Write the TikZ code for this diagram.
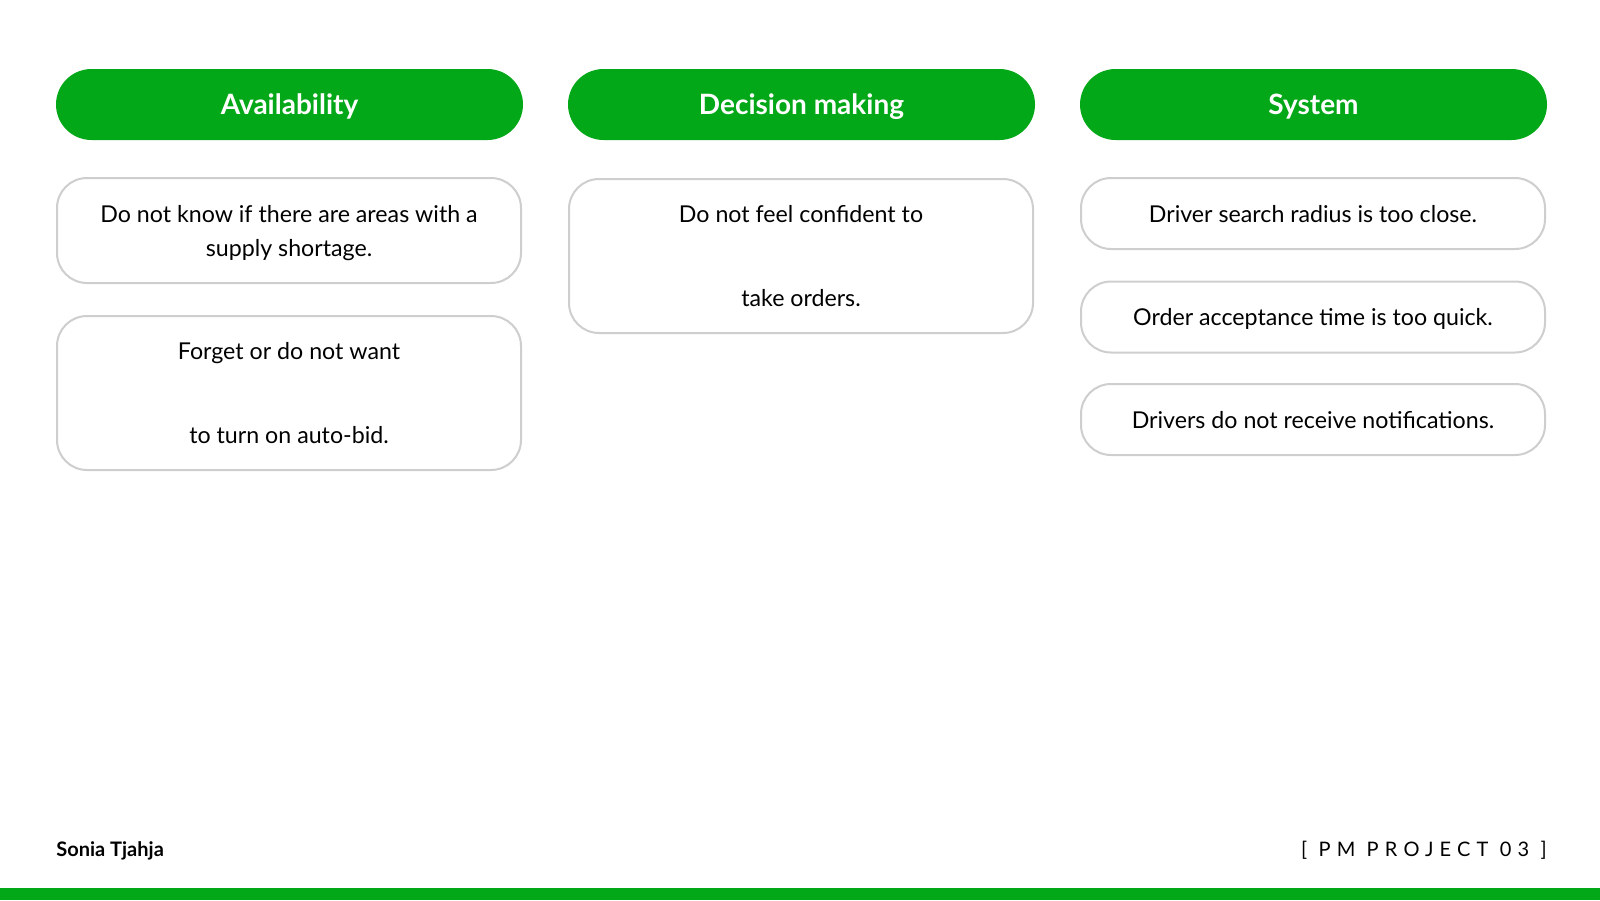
\documentclass[tikz,border=0pt]{standalone}
\usepackage{fontspec}
\setmainfont{Lato}
\newfontfamily\spacedfont[LetterSpace=31]{Lato}
\definecolor{grabgreen}{RGB}{3,168,24}
\definecolor{cardgray}{RGB}{206,206,206}

\begin{document}
\begin{tikzpicture}[x=0.5pt, y=-0.5pt,
    header/.style={fill=grabgreen, rounded corners=17.75pt, minimum width=233.5pt, minimum height=35.5pt,
        inner sep=0pt, text depth=0pt, text=white, font=\fontsize{14}{17}\selectfont\bfseries},
    card/.style={draw=cardgray, line width=1pt, fill=white, rounded corners=15pt, minimum width=232pt,
        inner sep=0pt, text depth=0pt, align=center, font=\fontsize{11.6}{17}\selectfont}]
        \useasboundingbox (0,0) rectangle (1600,900);
        % column headers
        \node[header] (avail) at (289.5,104.5) {Availability};
        \node[header] (decision) at (801.5,104.5) {Decision making};
        \node[header] (system) at (1313.5,104.5) {System};
        % availability
        \node[card, minimum height=52.5pt] (avail1) at (289,230.5) {Do not know if there are areas with a\\supply shortage.};
        \node[card, minimum height=77pt] (avail2) at (289,393) {Forget or do not want\\[25pt]to turn on auto-bid.};
        % decision making
        \node[card, minimum height=77pt] (decide1) at (801,256) {Do not feel confident to\\[25pt]take orders.};
        % system
        \node[card, minimum height=35.5pt] (sys1) at (1313,213.5) {Driver search radius is too close.};
        \node[card, minimum height=35.5pt] (sys2) at (1313,317) {Order acceptance time is too quick.};
        \node[card, minimum height=35.5pt] (sys3) at (1313,419.5) {Drivers do not receive notifications.};
        % footer
        \node[anchor=base west, inner sep=0pt, font=\fontsize{10}{12}\selectfont\bfseries] (author) at (56,856) {Sonia Tjahja};
        \node[anchor=base east, inner sep=0pt, font=\fontsize{10}{12}\selectfont\spacedfont] (project) at (1547,856) {[ PM PROJECT 03 ]};
        \fill[grabgreen] (0,888) rectangle (1600,900);
    \end{tikzpicture}
\end{document}
